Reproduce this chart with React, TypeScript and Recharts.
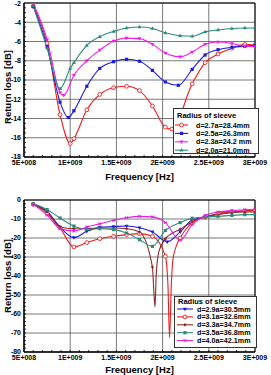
import {
  CartesianGrid,
  ComposedChart,
  Line,
  ReferenceArea,
  ReferenceLine,
  XAxis,
  YAxis,
} from 'recharts'

// frequencies in GHz (converted to Hz when building rows), return loss in dB
type Pt = [number, number]

const xTicks = [5e8, 1e9, 1.5e9, 2e9, 2.5e9, 3e9]
const topYTicks = [-18, -16, -14, -12, -10, -8, -6, -4, -2]
const botYTicks = [-80, -70, -60, -50, -40, -30, -20, -10, 0]

// --- upper panel ---
const d27: Pt[] = [
  [0.6, -2.35], [0.75, -6.2], [0.89, -13.6], [1.0, -16.6], [1.04, -16.1], [1.18, -13.1],
  [1.32, -11.5], [1.47, -10.8], [1.61, -10.65], [1.75, -11.1], [1.89, -12.7], [2.03, -14.9],
  [2.1, -15.1], [2.32, -10.4], [2.46, -8.2], [2.6, -7.3], [2.75, -6.7], [2.89, -6.3], [3.0, -6.4],
]
const d25: Pt[] = [
  [0.6, -2.35], [0.75, -6.5], [0.89, -12.3], [0.98, -13.9], [1.04, -13.2], [1.18, -10.65],
  [1.32, -8.8], [1.47, -8.1], [1.61, -7.85], [1.75, -8.05], [1.89, -9.0], [2.03, -10.2],
  [2.17, -10.55], [2.32, -8.9], [2.46, -7.4], [2.6, -6.85], [2.75, -6.6], [2.89, -6.5], [3.0, -6.4],
]
const d23: Pt[] = [
  [0.6, -2.0], [0.75, -5.8], [0.89, -11.3], [0.93, -11.6], [1.04, -9.5], [1.18, -8.0],
  [1.32, -6.9], [1.47, -5.95], [1.61, -5.65], [1.75, -5.7], [1.89, -6.3], [2.03, -7.2],
  [2.19, -7.6], [2.32, -7.1], [2.46, -6.3], [2.6, -6.05], [2.75, -6.2], [2.89, -6.5], [3.0, -6.55],
]
const d20: Pt[] = [
  [0.6, -2.3], [0.75, -6.7], [0.89, -10.9], [1.0, -8.8], [1.04, -8.2], [1.18, -6.4],
  [1.32, -5.5], [1.47, -4.95], [1.61, -4.6], [1.75, -4.5], [1.89, -4.65], [2.03, -5.1],
  [2.19, -5.4], [2.32, -5.45], [2.46, -5.0], [2.6, -4.8], [2.75, -4.65], [2.89, -4.6], [3.0, -4.6],
]

// --- lower panel ---
const d29: Pt[] = [
  [0.6, -2.3], [0.75, -6.0], [0.89, -14.2], [1.04, -19.8], [1.18, -16.5], [1.32, -14.4],
  [1.47, -14.0], [1.61, -13.7], [1.75, -14.6], [1.89, -16.8], [2.05, -22.0], [2.19, -16.8],
  [2.32, -10.5], [2.46, -9.0], [2.6, -7.2], [2.75, -6.3], [2.89, -5.8], [3.0, -5.6],
]
const d31: Pt[] = [
  [0.6, -2.3], [0.75, -7.0], [0.89, -14.7], [1.04, -24.7], [1.18, -22.4], [1.32, -20.4],
  [1.47, -19.1], [1.61, -18.2], [1.75, -17.7], [1.89, -19.1], [2.03, -29.6], [2.19, -20.0],
  [2.32, -11.9], [2.46, -9.0], [2.6, -7.2], [2.75, -6.0], [2.89, -5.8], [3.0, -5.4],
]
// unmarked points of the sharp resonance
const d31Dip: Pt[] = [[2.058, -45], [2.075, -72.5], [2.094, -45], [2.11, -32], [2.15, -24]]
const d33: Pt[] = [
  [0.6, -2.3], [0.75, -6.3], [0.89, -14.2], [1.04, -15.1], [1.18, -15.1], [1.32, -14.7],
  [1.47, -14.7], [1.61, -15.1], [1.75, -16.8], [1.89, -35.3], [2.03, -20.5], [2.19, -15.4],
  [2.32, -11.6], [2.46, -8.8], [2.6, -7.7], [2.75, -6.7], [2.89, -6.3], [3.0, -6.3],
]
const d33Dip: Pt[] = [[1.905, -48], [1.918, -56.3], [1.93, -40], [1.96, -27]]
const d35: Pt[] = [
  [0.6, -2.0], [0.75, -5.0], [0.89, -9.5], [1.04, -13.7], [1.18, -15.4], [1.32, -15.1],
  [1.47, -15.6], [1.61, -17.4], [1.75, -20.9], [1.89, -24.4], [2.03, -16.0], [2.19, -11.9],
  [2.32, -9.6], [2.46, -9.0], [2.6, -8.6], [2.75, -8.1], [2.89, -7.7], [3.0, -7.7],
]
const d40: Pt[] = [
  [0.6, -2.3], [0.75, -8.0], [0.89, -15.0], [1.04, -16.3], [1.18, -14.2], [1.32, -12.5],
  [1.47, -10.7], [1.61, -9.3], [1.75, -8.6], [1.89, -8.9], [2.03, -11.9], [2.19, -21.2],
  [2.32, -13.0], [2.46, -8.1], [2.6, -6.3], [2.75, -5.6], [2.89, -5.1], [3.0, -4.9],
]

type Shape = 'circle' | 'square' | 'triUp' | 'triDown' | 'diamond' | 'star'
type Series = { name: string; color: string; shape: Shape; pts: Pt[]; extra?: Pt[] }

const topSeries: Series[] = [
  { name: 'd=2.7a=28.4mm', color: '#ee1c1c', shape: 'circle', pts: d27 },
  { name: 'd=2.5a=26.3mm', color: '#1c1cd8', shape: 'square', pts: d25 },
  { name: 'd=2.3a=24.2 mm', color: '#f01cf0', shape: 'triDown', pts: d23 },
  { name: 'd=2.0a=21.0mm', color: '#2a8c7c', shape: 'triUp', pts: d20 },
]
const botSeries: Series[] = [
  { name: 'd=2.9a=30.5mm', color: '#1c1cd8', shape: 'triDown', pts: d29 },
  { name: 'd=3.1a=32.6mm', color: '#ee1c1c', shape: 'circle', pts: d31, extra: d31Dip },
  { name: 'd=3.3a=34.7mm', color: '#8c2a2a', shape: 'diamond', pts: d33, extra: d33Dip },
  { name: 'd=3.5a=36.8mm', color: '#2a8c7c', shape: 'square', pts: d35 },
  { name: 'd=4.0a=42.1mm', color: '#e020e0', shape: 'star', pts: d40 },
]

const FONT = "'Liberation Sans Narrow', 'Liberation Sans', Arial, sans-serif"

const rows = (pts: Pt[]) =>
  [...pts].sort((a, b) => a[0] - b[0]).map(([f, v]) => ({ f: f * 1e9, v }))

const fmtHz = (v: number) => {
  const e = Math.floor(Math.log10(v) + 1e-9)
  const m = Math.round((v / 10 ** e) * 10) / 10
  return `${m}E+${String(e).padStart(3, '0')}`
}

function Marker({ cx, cy, shape, color }: { cx: number; cy: number; shape: Shape; color: string }) {
  switch (shape) {
    case 'circle':
      return <circle cx={cx} cy={cy} r={1.9} fill="#fff" stroke={color} strokeWidth={0.9} />
    case 'square':
      return <rect x={cx - 1.6} y={cy - 1.6} width={3.2} height={3.2} fill={color} />
    case 'triUp':
      return <polygon points={`${cx},${cy - 2.2} ${cx - 2},${cy + 1.3} ${cx + 2},${cy + 1.3}`} fill={color} />
    case 'triDown':
      return <polygon points={`${cx},${cy + 2.2} ${cx - 2},${cy - 1.3} ${cx + 2},${cy - 1.3}`} fill={color} />
    case 'diamond':
      return <polygon points={`${cx},${cy - 1.9} ${cx + 1.6},${cy} ${cx},${cy + 1.9} ${cx - 1.6},${cy}`} fill={color} />
    default:
      return (
        <g stroke={color} strokeWidth={0.9}>
          <line x1={cx - 1.8} y1={cy} x2={cx + 1.8} y2={cy} />
          <line x1={cx - 1.3} y1={cy - 1.5} x2={cx + 1.3} y2={cy + 1.5} />
          <line x1={cx - 1.3} y1={cy + 1.5} x2={cx + 1.3} y2={cy - 1.5} />
        </g>
      )
  }
}

function YTitle({ cx, cy }: { cx: number; cy: number }) {
  return (
    <text
      x={cx}
      y={cy}
      transform={`rotate(-90 ${cx} ${cy})`}
      textAnchor="middle"
      dominantBaseline="central"
      fontFamily={FONT}
      fontWeight={700}
      fontSize={9.5}
      fill="#000"
    >
      Return loss [dB]
    </text>
  )
}

function Panel({
  series,
  yTicks,
  height,
  marginTop,
  xAxisHeight,
  xLabelOffset,
  yMinorStep,
  xMinorLen,
  yTitleShift,
}: {
  series: Series[]
  yTicks: number[]
  height: number
  marginTop: number
  xAxisHeight: number
  xLabelOffset: number
  yMinorStep: number
  xMinorLen: number
  yTitleShift: number
}) {
  const y0 = yTicks[0]
  const y1 = yTicks[yTicks.length - 1]
  const xMinor: number[] = []
  for (let f = 6e8; f < 3e9; f += 1e8) xMinor.push(Math.round(f))
  const yMinor: number[] = []
  for (let v = y0 + yMinorStep; v < y1 - 1e-6; v += yMinorStep) yMinor.push(+v.toFixed(2))
  const plotH = height - marginTop - xAxisHeight
  return (
    <ComposedChart width={271} height={height} margin={{ top: marginTop, right: 16, bottom: 0, left: 0 }}>
      <CartesianGrid stroke="#555" strokeWidth={0.8} />
      <XAxis
        type="number"
        dataKey="f"
        domain={[5e8, 3e9]}
        ticks={xTicks}
        interval={0}
        allowDataOverflow
        tickFormatter={fmtHz}
        tickLine={false}
        tickSize={0}
        tickMargin={3}
        height={xAxisHeight}
        axisLine={{ stroke: '#000' }}
        tick={{ fontSize: 7, fontWeight: 700, fill: '#000', fontFamily: FONT }}
        label={{
          value: 'Frequency [Hz]',
          position: 'insideBottom',
          offset: xLabelOffset,
          style: { fontSize: 9.5, fontWeight: 700, fill: '#000', fontFamily: FONT },
        }}
      />
      <YAxis
        type="number"
        domain={[y0, y1]}
        ticks={yTicks}
        interval={0}
        allowDataOverflow
        width={24}
        tickLine={false}
        tickSize={0}
        tickMargin={3}
        axisLine={{ stroke: '#000' }}
        tick={{ fontSize: 7, fontWeight: 700, fill: '#000', fontFamily: FONT }}
        label={{ content: () => <YTitle cx={7.5} cy={marginTop + plotH / 2 + yTitleShift} /> }}
      />
      <ReferenceArea x1={5e8} x2={3e9} y1={y0} y2={y1} fill="none" stroke="#000" strokeWidth={1} />
      {xMinor.map((f) => (
        <ReferenceLine
          key={`mx${f}`}
          segment={[{ x: f, y: y0 }, { x: f, y: y0 + xMinorLen }]}
          stroke="#000"
          strokeWidth={0.8}
        />
      ))}
      {yMinor.map((v) => (
        <ReferenceLine
          key={`my${v}`}
          segment={[{ x: 5e8, y: v }, { x: 5.22e8, y: v }]}
          stroke="#000"
          strokeWidth={0.8}
        />
      ))}
      {series.map((s) => (
        <Line
          key={`c-${s.name}`}
          data={rows([...s.pts, ...(s.extra ?? [])])}
          dataKey="v"
          type="monotone"
          stroke={s.color}
          strokeWidth={1.1}
          dot={false}
          activeDot={false}
          isAnimationActive={false}
        />
      ))}
      {series.map((s) => (
        <Line
          key={`m-${s.name}`}
          data={rows(s.pts)}
          dataKey="v"
          stroke="none"
          activeDot={false}
          isAnimationActive={false}
          dot={(p: any) => (
            <Marker key={`${s.name}-${p.index}`} cx={p.cx} cy={p.cy} shape={s.shape} color={s.color} />
          )}
        />
      ))}
    </ComposedChart>
  )
}

function LegendBox({
  series,
  left,
  top,
  width,
  height,
  titleY,
  firstY,
  step,
  lineX1,
  lineX2,
  textX,
}: {
  series: Series[]
  left: number
  top: number
  width: number
  height: number
  titleY: number
  firstY: number
  step: number
  lineX1: number
  lineX2: number
  textX: number
}) {
  return (
    <svg width={width} height={height} style={{ position: 'absolute', left, top }}>
      <rect x={0.5} y={0.5} width={width - 1} height={height - 1} fill="#fff" stroke="#333" strokeWidth={1} />
      <text x={4} y={titleY} dominantBaseline="central" fontFamily={FONT} fontWeight={700} fontSize={7.5} fill="#000">
        Radius of sleeve
      </text>
      {series.map((s, i) => {
        const cy = firstY + i * step
        return (
          <g key={s.name}>
            <line x1={lineX1} y1={cy} x2={lineX2} y2={cy} stroke={s.color} strokeWidth={1.1} />
            <Marker cx={(lineX1 + lineX2) / 2} cy={cy} shape={s.shape} color={s.color} />
            <text x={textX} y={cy} dominantBaseline="central" fontFamily={FONT} fontWeight={700} fontSize={7.2} fill="#000">
              {s.name}
            </text>
          </g>
        )
      })}
    </svg>
  )
}

export default function App() {
  return (
    <div style={{ position: 'absolute', left: 0, top: 0, width: 271, height: 375, background: '#fff', overflow: 'hidden' }}>
      <div style={{ position: 'absolute', left: 0, top: 0 }}>
        <Panel
          series={topSeries}
          yTicks={topYTicks}
          height={185}
          marginTop={3}
          xAxisHeight={28}
          xLabelOffset={5}
          yMinorStep={0.5}
          xMinorLen={0.21}
          yTitleShift={7}
        />
      </div>
      <div style={{ position: 'absolute', left: 0, top: 185 }}>
        <Panel
          series={botSeries}
          yTicks={botYTicks}
          height={190}
          marginTop={15}
          xAxisHeight={23}
          xLabelOffset={2}
          yMinorStep={2}
          xMinorLen={1.05}
          yTitleShift={0}
        />
      </div>
      <LegendBox
        series={topSeries}
        left={173}
        top={108}
        width={86}
        height={46}
        titleY={7}
        firstY={17}
        step={8.4}
        lineX1={2}
        lineX2={15}
        textX={23}
      />
      <LegendBox
        series={botSeries}
        left={174}
        top={296}
        width={83}
        height={52}
        titleY={5.5}
        firstY={13}
        step={7.9}
        lineX1={3}
        lineX2={19}
        textX={23}
      />
    </div>
  )
}
